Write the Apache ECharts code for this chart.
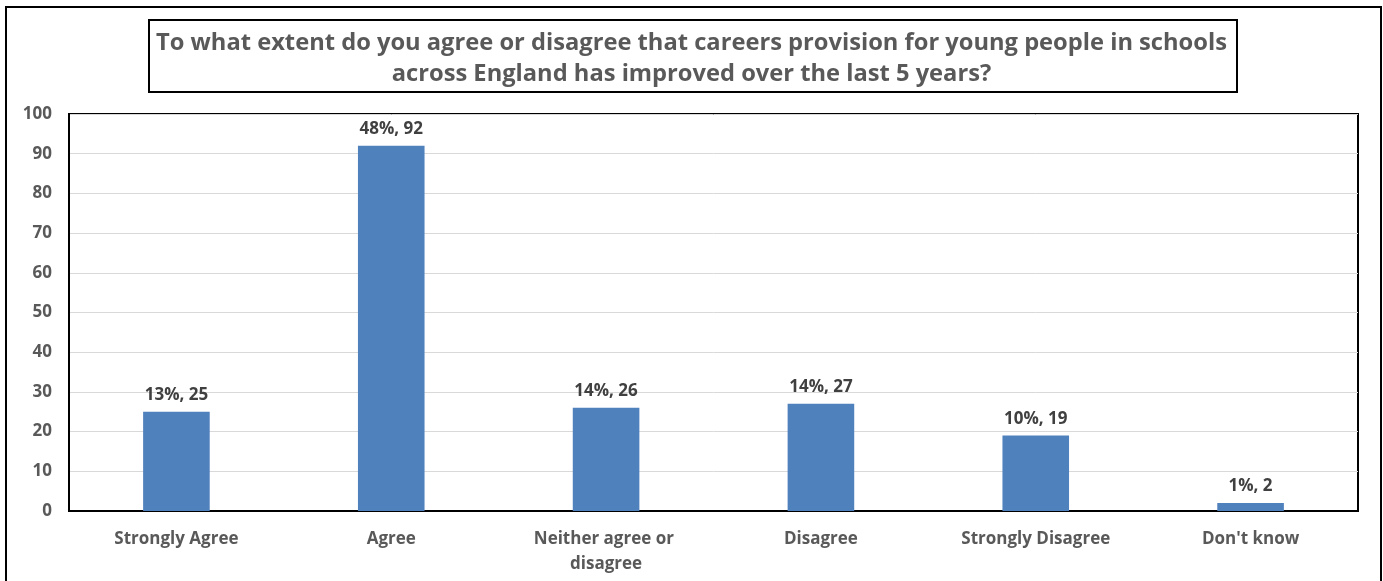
<!DOCTYPE html>
<html>
<head>
<meta charset="utf-8">
<script src="https://cdn.jsdelivr.net/npm/echarts@6/dist/echarts.min.js"></script>
<style>
  html, body { margin: 0; padding: 0; background: #ffffff; }
  #chart { width: 1383px; height: 581px; }
</style>
</head>
<body>
<div id="chart"></div>
<script>
// Survey responses: count of respondents per answer, with share of total
const categories = ['Strongly Agree', 'Agree', 'Neither agree or disagree', 'Disagree', 'Strongly Disagree', "Don't know"];
const counts = [25, 92, 26, 27, 19, 2];
const percents = [13, 48, 14, 14, 10, 1];
const yTicks = { min: 0, max: 100, interval: 10 };
const titleText = 'To what extent do you agree or disagree that careers provision for young people in schools\nacross England has improved over the last 5 years?';

const FONT = '"Open Sans", sans-serif';
const chart = echarts.init(document.getElementById('chart'), null, { renderer: 'canvas' });

chart.setOption({
  backgroundColor: '#ffffff',
  animation: false,
  graphic: [
    // outer frame
    { type: 'rect', shape: { x: 6, y: 7, width: 1375, height: 590 },
      style: { fill: 'none', stroke: '#000', lineWidth: 2 }, silent: true },
    // title box
    { type: 'rect', shape: { x: 149, y: 20, width: 1088, height: 72 },
      style: { fill: '#fff', stroke: '#000', lineWidth: 2 }, silent: true, z: 1 }
  ],
  title: {
    text: titleText,
    left: 'center',
    top: 23,
    z: 10,
    textStyle: { fontFamily: FONT, fontSize: 23.7, fontWeight: 'bold', color: '#595959', lineHeight: 31 }
  },
  grid: {
    left: 69, right: 25, top: 114, bottom: 70,
    show: true, borderColor: '#000', borderWidth: 2, backgroundColor: 'transparent'
  },
  xAxis: {
    type: 'category',
    data: categories,
    axisTick: { show: false },
    axisLine: { show: true, lineStyle: { color: '#000', width: 2 } },
    axisLabel: {
      fontFamily: FONT, fontSize: 17, fontWeight: 'bold', color: '#595959',
      margin: 16, lineHeight: 25, width: 180, overflow: 'break', interval: 0
    }
  },
  yAxis: {
    type: 'value',
    min: yTicks.min, max: yTicks.max, interval: yTicks.interval,
    axisLine: { show: true, lineStyle: { color: '#000', width: 2 } },
    axisTick: { show: false },
    splitLine: { lineStyle: { color: '#d9d9d9', width: 1 } },
    axisLabel: { fontFamily: FONT, fontSize: 17, fontWeight: 'bold', color: '#595959', margin: 17 }
  },
  series: [{
    type: 'bar',
    data: counts,
    barWidth: '31%',
    itemStyle: { color: '#4f81bd' },
    label: {
      show: true, position: 'top', distance: 8,
      fontFamily: FONT, fontSize: 17, fontWeight: 'bold', color: '#404040',
      formatter: p => percents[p.dataIndex] + '%, ' + p.value
    }
  }]
});
</script>
</body>
</html>
